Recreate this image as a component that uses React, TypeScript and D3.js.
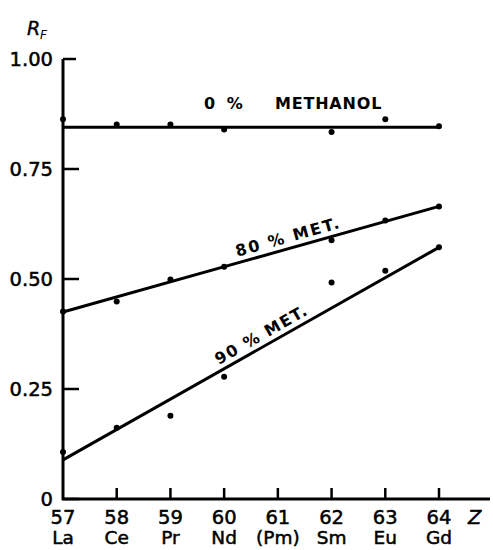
import React from "react";
import * as d3 from "d3";

// Atomic number (Z) and element symbol for each lanthanide
const zValues = [57, 58, 59, 60, 61, 62, 63, 64];
const elements = ["La", "Ce", "Pr", "Nd", "(Pm)", "Sm", "Eu", "Gd"];

// Measured RF values (no point for Pm)
const measuredZ = [57, 58, 59, 60, 62, 63, 64];
const rf0 = [0.863, 0.851, 0.851, 0.84, 0.834, 0.863, 0.847];
const rf80 = [0.426, 0.449, 0.499, 0.528, 0.588, 0.633, 0.665];
const rf90 = [0.107, 0.162, 0.189, 0.278, 0.492, 0.519, 0.572];

// Fitted straight lines: [RF at Z=57, RF at Z=64]
const fit0 = [0.845, 0.845];
const fit80 = [0.425, 0.665];
const fit90 = [0.089, 0.572];

const yTicks = [0, 0.25, 0.5, 0.75, 1.0];
const seriesLabels = ["0 %", "METHANOL", "80 % MET.", "90 % MET."];

const W = 493;
const H = 550;
const font = "'DejaVu Sans', sans-serif";

export default function App() {
  const x = d3.scaleLinear().domain([57, 64]).range([63, 439]);
  const y = d3.scaleLinear().domain([0, 1]).range([499, 59]);

  const series = [
    { pts: rf0, fit: fit0 },
    { pts: rf80, fit: fit80 },
    { pts: rf90, fit: fit90 },
  ];

  const line = d3
    .line<[number, number]>()
    .x((d) => x(d[0]))
    .y((d) => y(d[1]));

  // Label placed along a fitted line at a given Z
  const labelOn = (fit: number[], z: number) => {
    const x0 = x(57), y0 = y(fit[0]), x1 = x(64), y1 = y(fit[1]);
    const ang = (Math.atan2(y1 - y0, x1 - x0) * 180) / Math.PI;
    const t = (z - 57) / 7;
    return { px: x0 + (x1 - x0) * t, py: y0 + (y1 - y0) * t, ang };
  };

  const l80 = labelOn(fit80, 61.25);
  const l90 = labelOn(fit90, 60.8);

  const tickText = {
    fontFamily: font,
    fontSize: 19.5,
    fill: "#000",
    stroke: "#000",
    strokeWidth: 0.5,
  };
  const labelText = {
    fontFamily: font,
    fontSize: 16,
    fontWeight: "bold" as const,
    fill: "#000",
  };

  return (
    <svg width={W} height={H} style={{ display: "block", position: "absolute", left: 0, top: 0 }}>
      <rect width={W} height={H} fill="#fff" />

      {/* axis title */}
      <text x={27} y={35} fontFamily={font} fontSize={19} fontStyle="italic" fill="#000" stroke="#000" strokeWidth={0.4}>
        R
      </text>
      <text x={40} y={39} fontFamily={font} fontSize={12} fontStyle="italic" fill="#000">
        F
      </text>

      {/* y axis */}
      <line x1={x(57)} x2={x(57)} y1={y(1)} y2={y(0) + 1} stroke="#000" strokeWidth={3} />
      {yTicks.map((t) => (
        <g key={t}>
          <line
            x1={x(57)}
            x2={x(57) + (t === 1 ? 13 : 16)}
            y1={y(t)}
            y2={y(t)}
            stroke="#000"
            strokeWidth={2.5}
          />
          <text x={53} y={y(t)} dy="0.36em" textAnchor="end" {...tickText}>
            {t === 0 ? "0" : t.toFixed(2)}
          </text>
        </g>
      ))}

      {/* x axis */}
      <line x1={x(57) - 1} x2={490} y1={y(0)} y2={y(0)} stroke="#000" strokeWidth={3} />
      {zValues.map((z, i) => (
        <g key={z}>
          {z > 57 && (
            <line x1={x(z)} x2={x(z)} y1={y(0)} y2={y(0) - 11} stroke="#000" strokeWidth={2.5} />
          )}
          <text x={x(z)} y={524} textAnchor="middle" {...tickText}>
            {z}
          </text>
          <text x={x(z)} y={544} textAnchor="middle" {...tickText} fontSize={18.5}>
            {elements[i]}
          </text>
        </g>
      ))}
      <text x={468} y={524} {...tickText} fontStyle="italic">
        Z
      </text>

      {/* fitted lines and measured points */}
      {series.map((s, si) => (
        <g key={si}>
          <path
            d={line([
              [57, s.fit[0]],
              [64, s.fit[1]],
            ]) || ""}
            fill="none"
            stroke="#000"
            strokeWidth={3}
          />
          {measuredZ.map((z, i) => (
            <circle key={z} cx={x(z)} cy={y(s.pts[i])} r={3} fill="#000" />
          ))}
        </g>
      ))}

      {/* series labels */}
      <text x={204} y={y(fit0[0]) - 18} {...labelText} letterSpacing={3}>
        {seriesLabels[0]}
      </text>
      <text x={275} y={y(fit0[0]) - 18} {...labelText} letterSpacing={0.8}>
        {seriesLabels[1]}
      </text>
      <g transform={`translate(${l80.px},${l80.py}) rotate(${l80.ang})`}>
        <text x={0} y={-6} textAnchor="middle" {...labelText} letterSpacing={2}>
          {seriesLabels[2]}
        </text>
      </g>
      <g transform={`translate(${l90.px},${l90.py}) rotate(${l90.ang})`}>
        <text x={0} y={-6} textAnchor="middle" {...labelText} letterSpacing={1.5}>
          {seriesLabels[3]}
        </text>
      </g>
    </svg>
  );
}
